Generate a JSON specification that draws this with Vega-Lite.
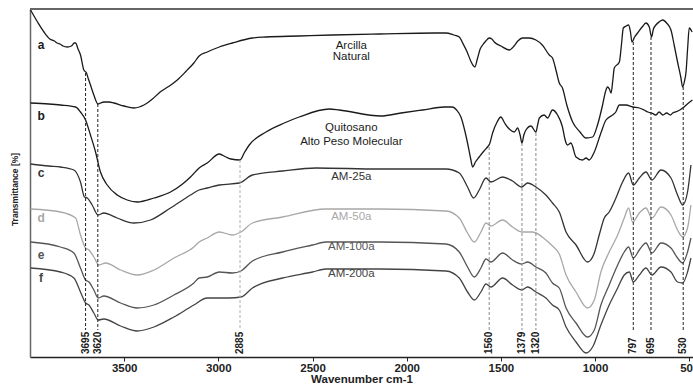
{
  "$schema": "https://vega.github.io/schema/vega-lite/v6.json",
  "autosize": "none",
  "padding": {"left": 30, "top": 9, "right": 0, "bottom": 28},
  "width": 663,
  "height": 348,
  "background": "white",
  "config": {"font": "Liberation Sans", "view": {"stroke": null}},
  "datasets": {
    "spectra": [
      {"s":"a","w":3997,"t":347},{"s":"a","w":3960,"t":335},{"s":"a","w":3926,"t":325},{"s":"a","w":3895,"t":318},{"s":"a","w":3870,"t":316},{"s":"a","w":3856,"t":314},{"s":"a","w":3840,"t":313},{"s":"a","w":3825,"t":311},{"s":"a","w":3802,"t":310},{"s":"a","w":3780,"t":311},{"s":"a","w":3765,"t":314},{"s":"a","w":3758,"t":314},{"s":"a","w":3745,"t":308},{"s":"a","w":3732,"t":302},{"s":"a","w":3714,"t":287},{"s":"a","w":3700,"t":284},{"s":"a","w":3690,"t":278},{"s":"a","w":3679,"t":272},{"s":"a","w":3661,"t":262},{"s":"a","w":3639,"t":253},{"s":"a","w":3625,"t":254},{"s":"a","w":3608,"t":255},{"s":"a","w":3580,"t":255},{"s":"a","w":3555,"t":254},{"s":"a","w":3501,"t":251},{"s":"a","w":3448,"t":249},{"s":"a","w":3420,"t":250},{"s":"a","w":3395,"t":252},{"s":"a","w":3350,"t":258},{"s":"a","w":3309,"t":265},{"s":"a","w":3260,"t":271},{"s":"a","w":3218,"t":277},{"s":"a","w":3170,"t":286},{"s":"a","w":3130,"t":294},{"s":"a","w":3102,"t":301},{"s":"a","w":3059,"t":305},{"s":"a","w":2995,"t":310},{"s":"a","w":2926,"t":314},{"s":"a","w":2820,"t":319},{"s":"a","w":2746,"t":320},{"s":"a","w":2571,"t":321},{"s":"a","w":2395,"t":322},{"s":"a","w":2146,"t":323},{"s":"a","w":1850,"t":324},{"s":"a","w":1792,"t":324},{"s":"a","w":1750,"t":322},{"s":"a","w":1721,"t":320},{"s":"a","w":1700,"t":313},{"s":"a","w":1679,"t":305},{"s":"a","w":1660,"t":296},{"s":"a","w":1645,"t":291},{"s":"a","w":1638,"t":290},{"s":"a","w":1625,"t":298},{"s":"a","w":1610,"t":308},{"s":"a","w":1597,"t":312},{"s":"a","w":1580,"t":316},{"s":"a","w":1562,"t":319},{"s":"a","w":1548,"t":318},{"s":"a","w":1535,"t":315},{"s":"a","w":1500,"t":311},{"s":"a","w":1456,"t":307},{"s":"a","w":1430,"t":311},{"s":"a","w":1410,"t":316},{"s":"a","w":1385,"t":319},{"s":"a","w":1350,"t":319},{"s":"a","w":1314,"t":317},{"s":"a","w":1280,"t":312},{"s":"a","w":1243,"t":302},{"s":"a","w":1226,"t":299},{"s":"a","w":1205,"t":285},{"s":"a","w":1190,"t":274},{"s":"a","w":1173,"t":269},{"s":"a","w":1150,"t":252},{"s":"a","w":1119,"t":235},{"s":"a","w":1080,"t":225},{"s":"a","w":1048,"t":219},{"s":"a","w":1013,"t":220},{"s":"a","w":987,"t":232},{"s":"a","w":960,"t":252},{"s":"a","w":945,"t":265},{"s":"a","w":934,"t":270},{"s":"a","w":924,"t":268},{"s":"a","w":915,"t":264},{"s":"a","w":905,"t":278},{"s":"a","w":898,"t":289},{"s":"a","w":871,"t":295},{"s":"a","w":860,"t":312},{"s":"a","w":850,"t":329},{"s":"a","w":835,"t":331},{"s":"a","w":822,"t":332},{"s":"a","w":812,"t":325},{"s":"a","w":804,"t":315},{"s":"a","w":790,"t":320},{"s":"a","w":774,"t":324},{"s":"a","w":750,"t":330},{"s":"a","w":730,"t":334},{"s":"a","w":712,"t":330},{"s":"a","w":700,"t":320},{"s":"a","w":690,"t":328},{"s":"a","w":677,"t":332},{"s":"a","w":660,"t":335},{"s":"a","w":641,"t":337},{"s":"a","w":620,"t":334},{"s":"a","w":597,"t":327},{"s":"a","w":580,"t":312},{"s":"a","w":562,"t":295},{"s":"a","w":545,"t":280},{"s":"a","w":535,"t":270},{"s":"a","w":525,"t":276},{"s":"a","w":517,"t":285},{"s":"a","w":508,"t":310},{"s":"a","w":500,"t":329},{"s":"a","w":485,"t":325},
      {"s":"b","w":3997,"t":254},{"s":"b","w":3900,"t":253},{"s":"b","w":3838,"t":252},{"s":"b","w":3758,"t":250},{"s":"b","w":3732,"t":245},{"s":"b","w":3705,"t":237},{"s":"b","w":3679,"t":222},{"s":"b","w":3652,"t":205},{"s":"b","w":3626,"t":185},{"s":"b","w":3590,"t":172},{"s":"b","w":3537,"t":162},{"s":"b","w":3484,"t":157},{"s":"b","w":3431,"t":155},{"s":"b","w":3342,"t":159},{"s":"b","w":3254,"t":165},{"s":"b","w":3190,"t":173},{"s":"b","w":3148,"t":180},{"s":"b","w":3102,"t":189},{"s":"b","w":3059,"t":194},{"s":"b","w":2995,"t":203},{"s":"b","w":2960,"t":200},{"s":"b","w":2933,"t":198},{"s":"b","w":2885,"t":197},{"s":"b","w":2860,"t":205},{"s":"b","w":2836,"t":212},{"s":"b","w":2747,"t":225},{"s":"b","w":2650,"t":234},{"s":"b","w":2571,"t":240},{"s":"b","w":2411,"t":248},{"s":"b","w":2358,"t":247},{"s":"b","w":2137,"t":241},{"s":"b","w":2030,"t":244},{"s":"b","w":1916,"t":247},{"s":"b","w":1800,"t":250},{"s":"b","w":1757,"t":250},{"s":"b","w":1735,"t":247},{"s":"b","w":1712,"t":240},{"s":"b","w":1690,"t":225},{"s":"b","w":1677,"t":214},{"s":"b","w":1660,"t":198},{"s":"b","w":1650,"t":190},{"s":"b","w":1635,"t":195},{"s":"b","w":1615,"t":200},{"s":"b","w":1590,"t":206},{"s":"b","w":1571,"t":210},{"s":"b","w":1560,"t":213},{"s":"b","w":1544,"t":224},{"s":"b","w":1520,"t":235},{"s":"b","w":1500,"t":240},{"s":"b","w":1480,"t":234},{"s":"b","w":1465,"t":230},{"s":"b","w":1429,"t":225},{"s":"b","w":1411,"t":229},{"s":"b","w":1398,"t":222},{"s":"b","w":1388,"t":214},{"s":"b","w":1378,"t":222},{"s":"b","w":1367,"t":227},{"s":"b","w":1340,"t":231},{"s":"b","w":1314,"t":225},{"s":"b","w":1305,"t":232},{"s":"b","w":1296,"t":239},{"s":"b","w":1270,"t":242},{"s":"b","w":1252,"t":239},{"s":"b","w":1226,"t":247},{"s":"b","w":1199,"t":242},{"s":"b","w":1173,"t":230},{"s":"b","w":1160,"t":218},{"s":"b","w":1154,"t":214},{"s":"b","w":1146,"t":212},{"s":"b","w":1128,"t":214},{"s":"b","w":1101,"t":200},{"s":"b","w":1066,"t":197},{"s":"b","w":1048,"t":199},{"s":"b","w":1031,"t":197},{"s":"b","w":1004,"t":205},{"s":"b","w":969,"t":224},{"s":"b","w":942,"t":237},{"s":"b","w":907,"t":242},{"s":"b","w":890,"t":245},{"s":"b","w":871,"t":252},{"s":"b","w":836,"t":252},{"s":"b","w":800,"t":250},{"s":"b","w":765,"t":249},{"s":"b","w":740,"t":247},{"s":"b","w":720,"t":245},{"s":"b","w":700,"t":244},{"s":"b","w":677,"t":242},{"s":"b","w":660,"t":245},{"s":"b","w":640,"t":242},{"s":"b","w":620,"t":244},{"s":"b","w":600,"t":242},{"s":"b","w":588,"t":244},{"s":"b","w":560,"t":246},{"s":"b","w":535,"t":249},{"s":"b","w":510,"t":253},{"s":"b","w":483,"t":257},
      {"s":"c","w":3997,"t":193},{"s":"c","w":3900,"t":191},{"s":"c","w":3838,"t":190},{"s":"c","w":3767,"t":187},{"s":"c","w":3732,"t":175},{"s":"c","w":3711,"t":160},{"s":"c","w":3696,"t":159},{"s":"c","w":3670,"t":152},{"s":"c","w":3639,"t":142},{"s":"c","w":3608,"t":144},{"s":"c","w":3537,"t":139},{"s":"c","w":3448,"t":134},{"s":"c","w":3360,"t":137},{"s":"c","w":3254,"t":149},{"s":"c","w":3148,"t":162},{"s":"c","w":3102,"t":167},{"s":"c","w":3059,"t":169},{"s":"c","w":2995,"t":172},{"s":"c","w":2889,"t":174},{"s":"c","w":2819,"t":182},{"s":"c","w":2659,"t":186},{"s":"c","w":2482,"t":189},{"s":"c","w":2146,"t":188},{"s":"c","w":1792,"t":188},{"s":"c","w":1721,"t":184},{"s":"c","w":1677,"t":170},{"s":"c","w":1645,"t":159},{"s":"c","w":1615,"t":167},{"s":"c","w":1579,"t":179},{"s":"c","w":1553,"t":175},{"s":"c","w":1491,"t":180},{"s":"c","w":1438,"t":176},{"s":"c","w":1390,"t":170},{"s":"c","w":1358,"t":174},{"s":"c","w":1314,"t":170},{"s":"c","w":1261,"t":162},{"s":"c","w":1226,"t":154},{"s":"c","w":1190,"t":145},{"s":"c","w":1154,"t":125},{"s":"c","w":1101,"t":112},{"s":"c","w":1040,"t":95},{"s":"c","w":1004,"t":104},{"s":"c","w":978,"t":122},{"s":"c","w":951,"t":139},{"s":"c","w":925,"t":145},{"s":"c","w":889,"t":159},{"s":"c","w":854,"t":175},{"s":"c","w":822,"t":184},{"s":"c","w":797,"t":172},{"s":"c","w":765,"t":179},{"s":"c","w":730,"t":185},{"s":"c","w":698,"t":177},{"s":"c","w":650,"t":187},{"s":"c","w":597,"t":179},{"s":"c","w":562,"t":162},{"s":"c","w":535,"t":152},{"s":"c","w":509,"t":165},{"s":"c","w":491,"t":192},
      {"s":"d","w":3997,"t":148},{"s":"d","w":3838,"t":145},{"s":"d","w":3758,"t":139},{"s":"d","w":3732,"t":122},{"s":"d","w":3705,"t":109},{"s":"d","w":3687,"t":107},{"s":"d","w":3661,"t":100},{"s":"d","w":3634,"t":92},{"s":"d","w":3599,"t":94},{"s":"d","w":3519,"t":87},{"s":"d","w":3431,"t":82},{"s":"d","w":3342,"t":87},{"s":"d","w":3236,"t":99},{"s":"d","w":3130,"t":110},{"s":"d","w":3102,"t":115},{"s":"d","w":3059,"t":119},{"s":"d","w":2995,"t":125},{"s":"d","w":2925,"t":122},{"s":"d","w":2880,"t":125},{"s":"d","w":2819,"t":134},{"s":"d","w":2659,"t":140},{"s":"d","w":2429,"t":148},{"s":"d","w":2146,"t":148},{"s":"d","w":1792,"t":146},{"s":"d","w":1721,"t":139},{"s":"d","w":1677,"t":124},{"s":"d","w":1641,"t":115},{"s":"d","w":1606,"t":125},{"s":"d","w":1579,"t":134},{"s":"d","w":1553,"t":131},{"s":"d","w":1491,"t":137},{"s":"d","w":1438,"t":130},{"s":"d","w":1390,"t":125},{"s":"d","w":1332,"t":125},{"s":"d","w":1261,"t":117},{"s":"d","w":1226,"t":111},{"s":"d","w":1190,"t":103},{"s":"d","w":1154,"t":82},{"s":"d","w":1101,"t":65},{"s":"d","w":1040,"t":49},{"s":"d","w":1004,"t":57},{"s":"d","w":969,"t":85},{"s":"d","w":925,"t":105},{"s":"d","w":880,"t":122},{"s":"d","w":845,"t":139},{"s":"d","w":822,"t":149},{"s":"d","w":801,"t":135},{"s":"d","w":765,"t":144},{"s":"d","w":730,"t":149},{"s":"d","w":698,"t":139},{"s":"d","w":650,"t":150},{"s":"d","w":597,"t":142},{"s":"d","w":562,"t":127},{"s":"d","w":535,"t":120},{"s":"d","w":509,"t":129},{"s":"d","w":491,"t":152},
      {"s":"e","w":3997,"t":115},{"s":"e","w":3838,"t":110},{"s":"e","w":3767,"t":104},{"s":"e","w":3732,"t":89},{"s":"e","w":3705,"t":77},{"s":"e","w":3687,"t":75},{"s":"e","w":3661,"t":67},{"s":"e","w":3638,"t":59},{"s":"e","w":3608,"t":61},{"s":"e","w":3519,"t":54},{"s":"e","w":3431,"t":49},{"s":"e","w":3342,"t":52},{"s":"e","w":3236,"t":62},{"s":"e","w":3130,"t":74},{"s":"e","w":3102,"t":79},{"s":"e","w":3059,"t":80},{"s":"e","w":2995,"t":85},{"s":"e","w":2925,"t":84},{"s":"e","w":2880,"t":86},{"s":"e","w":2819,"t":96},{"s":"e","w":2659,"t":105},{"s":"e","w":2500,"t":112},{"s":"e","w":2429,"t":115},{"s":"e","w":2146,"t":115},{"s":"e","w":1792,"t":113},{"s":"e","w":1721,"t":105},{"s":"e","w":1677,"t":90},{"s":"e","w":1641,"t":80},{"s":"e","w":1606,"t":89},{"s":"e","w":1579,"t":98},{"s":"e","w":1553,"t":95},{"s":"e","w":1491,"t":104},{"s":"e","w":1438,"t":97},{"s":"e","w":1390,"t":93},{"s":"e","w":1358,"t":95},{"s":"e","w":1314,"t":90},{"s":"e","w":1261,"t":84},{"s":"e","w":1226,"t":74},{"s":"e","w":1190,"t":69},{"s":"e","w":1154,"t":49},{"s":"e","w":1101,"t":34},{"s":"e","w":1040,"t":20},{"s":"e","w":1004,"t":27},{"s":"e","w":969,"t":52},{"s":"e","w":925,"t":72},{"s":"e","w":880,"t":92},{"s":"e","w":845,"t":105},{"s":"e","w":822,"t":110},{"s":"e","w":797,"t":99},{"s":"e","w":765,"t":107},{"s":"e","w":730,"t":114},{"s":"e","w":698,"t":104},{"s":"e","w":650,"t":114},{"s":"e","w":597,"t":109},{"s":"e","w":562,"t":99},{"s":"e","w":535,"t":94},{"s":"e","w":509,"t":105},{"s":"e","w":491,"t":119},
      {"s":"f","w":3997,"t":89},{"s":"f","w":3838,"t":85},{"s":"f","w":3767,"t":79},{"s":"f","w":3732,"t":65},{"s":"f","w":3705,"t":54},{"s":"f","w":3687,"t":52},{"s":"f","w":3661,"t":44},{"s":"f","w":3638,"t":37},{"s":"f","w":3608,"t":38},{"s":"f","w":3519,"t":31},{"s":"f","w":3431,"t":26},{"s":"f","w":3342,"t":30},{"s":"f","w":3236,"t":40},{"s":"f","w":3130,"t":52},{"s":"f","w":3059,"t":59},{"s":"f","w":2995,"t":59},{"s":"f","w":2942,"t":59},{"s":"f","w":2880,"t":60},{"s":"f","w":2819,"t":69},{"s":"f","w":2659,"t":79},{"s":"f","w":2500,"t":85},{"s":"f","w":2429,"t":88},{"s":"f","w":2146,"t":88},{"s":"f","w":1792,"t":86},{"s":"f","w":1721,"t":79},{"s":"f","w":1677,"t":65},{"s":"f","w":1641,"t":57},{"s":"f","w":1606,"t":65},{"s":"f","w":1579,"t":73},{"s":"f","w":1553,"t":70},{"s":"f","w":1491,"t":79},{"s":"f","w":1438,"t":72},{"s":"f","w":1390,"t":67},{"s":"f","w":1358,"t":70},{"s":"f","w":1314,"t":65},{"s":"f","w":1261,"t":59},{"s":"f","w":1226,"t":52},{"s":"f","w":1190,"t":47},{"s":"f","w":1154,"t":30},{"s":"f","w":1101,"t":15},{"s":"f","w":1048,"t":4},{"s":"f","w":1013,"t":10},{"s":"f","w":969,"t":32},{"s":"f","w":925,"t":52},{"s":"f","w":880,"t":69},{"s":"f","w":845,"t":82},{"s":"f","w":818,"t":85},{"s":"f","w":797,"t":75},{"s":"f","w":765,"t":82},{"s":"f","w":730,"t":89},{"s":"f","w":698,"t":82},{"s":"f","w":650,"t":90},{"s":"f","w":597,"t":85},{"s":"f","w":562,"t":75},{"s":"f","w":535,"t":74},{"s":"f","w":509,"t":85},{"s":"f","w":491,"t":99}
    ],
    "peaks": [
      {"pos":3705,"label":"3695","top":284,"g":"OH"},
      {"pos":3640,"label":"3620","top":253,"g":"OH"},
      {"pos":2885,"label":"2885","top":197,"g":"CH"},
      {"pos":1562,"label":"1560","top":210,"g":"chi"},
      {"pos":1388,"label":"1379","top":214,"g":"chi"},
      {"pos":1314,"label":"1320","top":224,"g":"chi"},
      {"pos":797,"label":"797","top":315,"g":"Si"},
      {"pos":703,"label":"695","top":320,"g":"Si"},
      {"pos":532,"label":"530","top":270,"g":"Si"}
    ],
    "frame": [{"edge": "top", "t": 348}],
    "letters": [
      {"s":"a","w":3941,"t":312},{"s":"b","w":3941,"t":241},{"s":"c","w":3941,"t":184},
      {"s":"d","w":3941,"t":139},{"s":"e","w":3941,"t":102},{"s":"f","w":3941,"t":79}
    ],
    "names": [
      {"s":"a","w":2294,"t":311,"name":"Arcilla"},
      {"s":"a","w":2294,"t":300,"name":"Natural"},
      {"s":"b","w":2294,"t":229,"name":"Quitosano"},
      {"s":"b","w":2294,"t":215,"name":"Alto Peso Molecular"},
      {"s":"c","w":2294,"t":180,"name":"AM-25a"},
      {"s":"d","w":2294,"t":140,"name":"AM-50a"},
      {"s":"e","w":2294,"t":110,"name":"AM-100a"},
      {"s":"f","w":2294,"t":83,"name":"AM-200a"}
    ]
  },
  "layer": [
    {
      "data": {"name": "spectra"},
      "mark": {"type": "line", "strokeWidth": 1.3, "clip": true, "interpolate": "monotone"},
      "encoding": {
        "x": {
          "field": "w", "type": "quantitative",
          "scale": {"domain": [480, 4000], "reverse": true, "nice": false, "zero": false},
          "axis": {
            "values": [3500, 3000, 2500, 2000, 1500, 1000, 500], "format": "d",
            "title": "Wavenumber cm-1", "titleFontSize": 11.5, "titleFontWeight": "bold", "titleColor": "#222222", "titlePadding": 0,
            "labelFontSize": 11.5, "labelFontWeight": "bold", "labelColor": "#222222", "labelFlush": false, "labelPadding": 1,
            "tickSize": 4, "tickColor": "#222222", "domainColor": "#222222", "domainWidth": 1.5, "grid": false
          }
        },
        "y": {
          "field": "t", "type": "quantitative",
          "scale": {"domain": [0, 348], "nice": false, "zero": false},
          "axis": {
            "title": "Transmittance [%]", "titleFontSize": 8.5, "titleFontWeight": "bold", "titleColor": "#222222", "titlePadding": 11, "titleY": 180,
            "labels": false, "ticks": false, "grid": false, "domainColor": "#666666", "domainWidth": 1.5
          }
        },
        "color": {"field": "s", "type": "nominal", "scale": {"domain": ["a", "b", "c", "d", "e", "f"], "range": ["#1a1a1a", "#1a1a1a", "#333333", "#a8a8a8", "#555555", "#444444"]}, "legend": null},
        "detail": {"field": "s", "type": "nominal"}
      }
    },
    {
      "data": {"name": "peaks"},
      "mark": {"type": "rule", "strokeDash": [3, 2], "strokeWidth": 1},
      "encoding": {
        "x": {"field": "pos", "type": "quantitative"},
        "y": {"field": "top", "type": "quantitative"},
        "y2": {"datum": 27},
        "stroke": {"field": "g", "type": "nominal", "scale": {"domain": ["OH", "CH", "chi", "Si"], "range": ["#222222", "#b0b0b0", "#8a8a8a", "#222222"]}, "legend": null}
      }
    },
    {
      "data": {"name": "frame"},
      "mark": {"type": "rule", "stroke": "#666666", "strokeWidth": 2},
      "encoding": {"y": {"field": "t", "type": "quantitative"}}
    },
    {
      "data": {"name": "letters"},
      "mark": {"type": "text", "fontSize": 12, "fontWeight": "bold", "align": "center", "baseline": "middle"},
      "encoding": {
        "x": {"field": "w", "type": "quantitative"},
        "y": {"field": "t", "type": "quantitative"},
        "text": {"field": "s", "type": "nominal"},
        "color": {"field": "s", "type": "nominal", "legend": null}
      }
    },
    {
      "data": {"name": "names"},
      "mark": {"type": "text", "fontSize": 11.5, "align": "center", "baseline": "middle"},
      "encoding": {
        "x": {"field": "w", "type": "quantitative"},
        "y": {"field": "t", "type": "quantitative"},
        "text": {"field": "name", "type": "nominal"},
        "color": {"field": "s", "type": "nominal", "legend": null}
      }
    },
    {
      "data": {"name": "peaks"},
      "mark": {"type": "text", "fontSize": 10, "fontWeight": "bold", "angle": 270, "align": "left", "baseline": "middle", "color": "#1a1a1a"},
      "encoding": {
        "x": {"field": "pos", "type": "quantitative"},
        "y": {"datum": 3},
        "text": {"field": "label", "type": "nominal"}
      }
    }
  ]
}
